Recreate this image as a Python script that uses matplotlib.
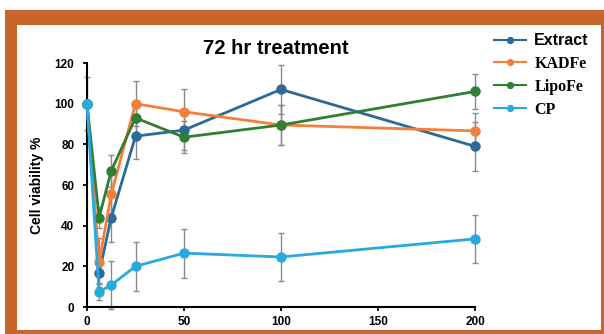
import matplotlib
matplotlib.use("Agg")
import matplotlib.pyplot as plt
from matplotlib.patches import Rectangle

plt.rcParams['font.family'] = ['Liberation Sans', 'DejaVu Sans']

conc = [0, 6.25, 12.5, 25, 50, 100, 200]

extract = [100, 16.7, 44, 84, 87, 107, 79]
extract_err = [0, 5, 12, 11, 10, 12, 12]
kadfe = [100, 22, 55.5, 100, 96, 89.5, 86.6]
kadfe_err = [0, 12, 10, 11, 11, 10, 9]
lipofe = [100, 44, 67, 93, 83.5, 89.5, 106]
lipofe_err = [13, 5, 8, 8, 8, 10, 8.6]
cp = [100, 7.4, 10.8, 20, 26.5, 24.6, 33.5]
cp_err = [0, 4, 12, 12, 12, 12, 11.7]

names = ['Extract', 'KADFe', 'LipoFe', 'CP']
colors = ['#2b6a99', '#f47e3a', '#2f7f34', '#2aa9e0']

fig = plt.figure(figsize=(6.04, 3.34), dpi=100)
fig.patches.append(Rectangle((5/604, 0), 599/604, 324/334, transform=fig.transFigure,
                             facecolor='#c6652c', edgecolor='none', zorder=-2))
fig.patches.append(Rectangle((17/604, 4/334), 584/604, 305/334, transform=fig.transFigure,
                             facecolor='white', edgecolor='none', zorder=-1))

ax = fig.add_axes([87/604, 27/334, 388/604, 244/334])
ax.patch.set_alpha(0)

series = [(extract, extract_err), (kadfe, kadfe_err), (lipofe, lipofe_err), (cp, cp_err)]
handles = []
for (vals, errs), name, c in zip(series, names, colors):
    ax.errorbar(conc, vals, yerr=errs, fmt='none', ecolor='#8a8a8a', elinewidth=1,
                capsize=2.5, capthick=1, clip_on=False, zorder=2)
    h, = ax.plot(conc, vals, '-o', color=c, lw=2, ms=6.5, label=name, clip_on=False, zorder=3)
    handles.append(h)

ax.set_xlim(0, 200)
ax.set_ylim(0, 120)
ax.set_xticks([0, 50, 100, 150, 200])
ax.set_yticks([0, 20, 40, 60, 80, 100, 120])
ax.spines['top'].set_visible(False)
ax.spines['right'].set_visible(False)
ax.spines['left'].set_linewidth(1.5)
ax.spines['bottom'].set_linewidth(1.5)
ax.tick_params(labelsize=8.5, width=1.3, length=3)
ax.tick_params(axis='y', pad=6)
for lab in ax.get_xticklabels() + ax.get_yticklabels():
    lab.set_fontweight('bold')

ax.set_ylabel('Cell viability %', fontsize=10, fontweight='bold', labelpad=8)
fig.text(276/604, 1 - 48/334, '72 hr treatment', ha='center', va='center',
         fontsize=14.5, fontweight='bold')

leg = fig.legend(handles=handles, loc='upper left', bbox_to_anchor=(488/604, 1 - 27/334),
                 frameon=False, fontsize=11.5, handlelength=2.0, labelspacing=0.45,
                 handletextpad=0.5, borderaxespad=0, markerscale=0.65)
for h in leg.legend_handles:
    h.set_linewidth(1.5)
for i, t in enumerate(leg.get_texts()):
    t.set_fontweight('bold')
    if i > 0:
        t.set_fontfamily(['Liberation Serif', 'DejaVu Serif'])

fig.savefig('out.png', dpi=100)
